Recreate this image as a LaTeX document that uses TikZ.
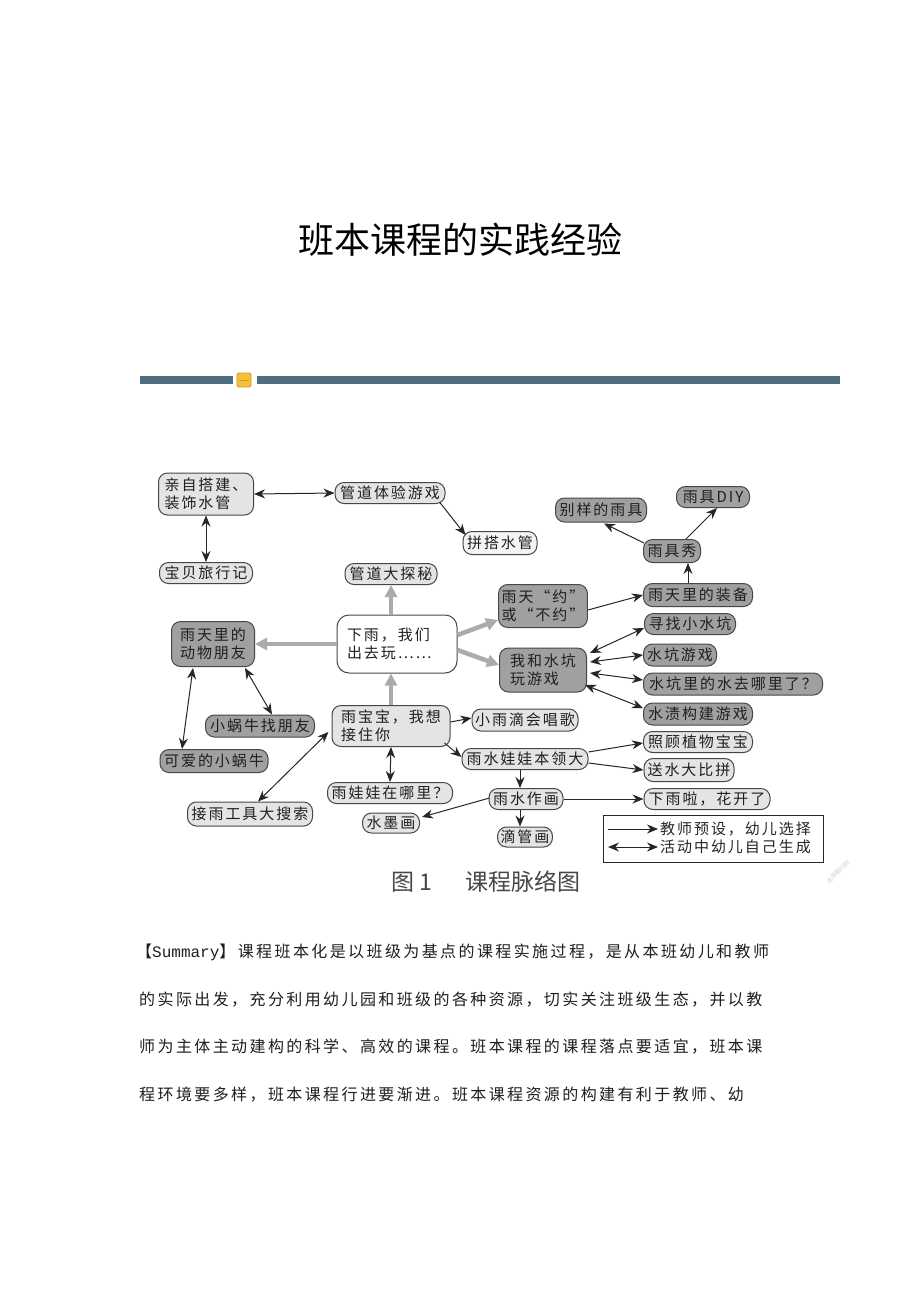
\documentclass[tikz,border=0pt]{standalone}
\usepackage{fontspec}
\setmainfont{Liberation Serif}
\newfontfamily\cjk{Noto Sans CJK SC}
\newfontfamily\cjkn[LetterSpace=13]{Noto Sans CJK SC}
\newfontfamily\cjkp[LetterSpace=15]{Noto Sans CJK SC}
\newfontfamily\monof{Liberation Mono}
\usetikzlibrary{arrows.meta,calc}
\definecolor{darkfill}{HTML}{A0A0A0}
\definecolor{lightfill}{HTML}{E4E4E4}
\definecolor{palefill}{HTML}{F4F4F4}
\definecolor{barblue}{HTML}{4F6D7E}
\definecolor{thickgray}{HTML}{ABABAB}
\definecolor{iconyellow}{HTML}{F3C23A}
\definecolor{iconedge}{HTML}{D49A1E}
\tikzset{
  box/.style={draw=black!72, line width=1pt, rounded corners=9pt, inner xsep=3pt, inner ysep=1pt,
    font=\cjkn\fontsize{15}{18}\selectfont, text=black!88, align=left},
  lbox/.style={box, fill=lightfill},
  dbox/.style={box, fill=darkfill},
  pbox/.style={box, fill=palefill},
  sz/.style 2 args={minimum width=#1pt, minimum height=#2pt},
  one/.style={-{Stealth[length=11pt,width=9pt]}, line width=1pt, draw=black!85},
  two/.style={{Stealth[length=11pt,width=9pt]}-{Stealth[length=11pt,width=9pt]}, line width=1pt, draw=black!85},
  fat/.style={-{Triangle[length=12pt,width=12pt]}, line width=4.5pt, draw=thickgray},
  para/.style={anchor=west, inner sep=0pt, font=\cjkp\fontsize{16}{16}\selectfont, text=black!88},
  legtext/.style={anchor=west, inner sep=0pt, font=\cjkn\fontsize{15}{15}\selectfont, text=black!85}
}
\begin{document}
\begin{tikzpicture}[x=1pt,y=-1pt]
\useasboundingbox (0,0) rectangle (920,1302);
\fill[white] (0,0) rectangle (920,1302);

% title
\node[font=\cjk\fontsize{36}{36}\selectfont] (title) at (460,240) {班本课程的实践经验};

% decorative bar
\fill[barblue] (140,376) rectangle (233,384);
\fill[barblue] (257,376) rectangle (840,384);
\draw[fill=iconyellow, draw=iconedge, line width=0.8pt, rounded corners=2pt] (237,373) rectangle (251,387);
\draw[iconedge, line width=0.8pt] (239,380) -- (249,380);

% nodes
\node[lbox, sz={95}{42}] (a1) at (206,494) {亲自搭建、\\装饰水管};
\node[lbox, sz={110}{21}] (a2) at (390,493) {管道体验游戏};
\node[lbox, sz={93}{21}] (a3) at (206,573) {宝贝旅行记};
\node[pbox, sz={74}{23}] (a4) at (500,543) {拼搭水管};
\node[lbox, sz={92}{21}] (tan) at (391,574) {管道大探秘};
\node[box, fill=white, rounded corners=12pt, minimum width=120pt, minimum height=58pt, text width=100pt] (c) at (397,644) {下雨，我们\\出去玩……};

\node[dbox, sz={83}{45}] (b1) at (213,644) {雨天里的\\动物朋友};
\node[dbox, sz={109}{22}] (b2) at (260,726) {小蜗牛找朋友};
\node[dbox, sz={108}{23}] (b3) at (214,761) {可爱的小蜗牛};

\node[lbox, sz={118}{41}] (r) at (391,726) {雨宝宝，我想\\接住你};
\node[lbox, sz={125}{24}] (r1) at (250,814) {接雨工具大搜索};
\node[lbox, sz={125}{21}] (r2) at (390,793) {雨娃娃在哪里？};
\node[lbox, sz={106}{22}] (r3) at (525,720) {小雨滴会唱歌};
\node[lbox, sz={126}{21}] (r4) at (525,759) {雨水娃娃本领大};
\node[lbox, sz={109}{21}] (r5) at (698,742) {照顾植物宝宝};
\node[lbox, sz={90}{23}] (r6) at (689,770) {送水大比拼};
\node[lbox, sz={74}{21}] (r7) at (526,799) {雨水作画};
\node[lbox, sz={126}{21}] (r8) at (707,799) {下雨啦，花开了};
\node[lbox, sz={57}{20}] (r9) at (391,823) {水墨画};
\node[lbox, sz={54}{20}] (r10) at (525,837) {滴管画};

\node[dbox, sz={87}{43}] (y) at (543,606) {雨天“约”\\或“不约”};
\node[dbox, sz={109}{23}] (y1) at (698,595) {雨天里的装备};
\node[dbox, sz={57}{23}] (y2) at (672,551) {雨具秀};
\node[dbox, sz={91}{24}] (y3) at (601,510) {别样的雨具};
\node[dbox, sz={73}{21}] (y4) at (713,497) {雨具DIY};

\node[dbox, sz={87}{44}] (w) at (543,670) {我和水坑\\玩游戏};
\node[dbox, sz={91}{21}] (w1) at (690,624) {寻找小水坑};
\node[dbox, sz={73}{22}] (w2) at (680,655) {水坑游戏};
\node[dbox, sz={179}{22}] (w3) at (733,684) {水坑里的水去哪里了？};
\node[dbox, sz={109}{22}] (w4) at (698,714) {水渍构建游戏};

% thick gray arrows
\draw[fat] (c.north -| tan) -- (tan.south);
\draw[fat] (r.north) -- (r.north |- c.south);
\draw[fat] (c.west) -- (b1.east);
\draw[fat] ($(c.east)+(0,-9)$) -- ($(y.west)+(0,14)$);
\draw[fat] ($(c.east)+(0,6)$) -- ($(w.west)+(0,-5)$);

% helper coordinates for vertical connectors
\coordinate (ya) at ($(y1.north)+(-10,0)$);
\coordinate (ra) at ($(r4.south)+(-5,0)$);
\coordinate (rb) at ($(r7.south)+(-6,0)$);

% thin arrows
\draw[two] (a1.east) -- (a2.west);
\draw[two] (a1.south) -- (a3.north);
\draw[one] ($(a2.south east)+(-6,-2)$) -- ($(a4.north west)+(3,4)$);

\draw[one] ($(y2.west)+(1,-8)$) -- ($(y3.south)+(3,1)$);
\draw[one] ($(y2.north)+(14,0)$) -- ($(y4.south)+(4,0)$);
\draw[one] (ya) -- (ya |- y2.south);
\draw[one] ($(y.east)+(0,4)$) -- (y1.west);

\draw[two] ($(w.east)+(3,-17)$) -- ($(w1.west)+(0,4)$);
\draw[two] ($(w.east)+(3,-8)$) -- (w2.west);
\draw[two] ($(w.east)+(3,3)$) -- ($(w3.west)+(0,-4)$);
\draw[two] ($(w.east)+(-2,15)$) -- ($(w4.west)+(0,-6)$);

\draw[two] ($(b1.south)+(32,1)$) -- ($(b2.north)+(12,0)$);
\draw[two] ($(b1.south)+(-20,1)$) -- ($(b3.north)+(-32,0)$);

\draw[two] ($(r.west)+(-3,6)$) -- ($(r1.north)+(8,0)$);
\draw[two] (r.south) -- (r2.north);
\draw[one] ($(r.east)+(0,-4)$) -- ($(r3.west)+(0,-2)$);
\draw[one] ($(r.south east)+(-6,-4)$) -- ($(r4.west)+(0,-2)$);
\draw[one] ($(r4.east)+(0,-7)$) -- ($(r5.west)+(0,1)$);
\draw[one] ($(r4.east)+(0,4)$) -- (r6.west);
\draw[one] (ra) -- (ra |- r7.north);
\draw[one] (r7.east) -- (r8.west);
\draw[one] (rb) -- (rb |- r10.north);
\draw[one] ($(r7.west)+(1,-1)$) -- ($(r9.east)+(2,-6)$);

% legend
\node[draw=black!85, line width=1pt, minimum width=220pt, minimum height=47pt, inner sep=0pt] (leg) at (713,838.5) {};
\coordinate (l1a) at (608,829);
\coordinate (l1b) at (658,829);
\coordinate (l2a) at (608,847);
\coordinate (l2b) at (658,847);
\draw[one] (l1a) -- (l1b);
\draw[two] (l2a) -- (l2b);
\node[legtext] (l1t) at (660,829) {教师预设，幼儿选择};
\node[legtext] (l2t) at (660,847) {活动中幼儿自己生成};

% caption
\node[anchor=west, inner sep=0pt, font=\cjk\fontsize{23}{23}\selectfont, text=black!72] (cap1) at (391,882) {图 1};
\node[anchor=west, inner sep=0pt, font=\cjk\fontsize{23}{23}\selectfont, text=black!72] (cap2) at (465,882) {课程脉络图};
\node[rotate=45, inner sep=0pt, font=\cjk\fontsize{6}{6}\selectfont, text=black!18] (wm) at (838,872) {龙源期刊网};

% paragraph
\node[para] (p1) at (136,952) {【{\monof\fontsize{16}{16}\selectfont Summary}】课程班本化是以班级为基点的课程实施过程，是从本班幼儿和教师};
\node[para] (p2) at (139,1000) {的实际出发，充分利用幼儿园和班级的各种资源，切实关注班级生态，并以教};
\node[para] (p3) at (139,1047) {师为主体主动建构的科学、高效的课程。班本课程的课程落点要适宜，班本课};
\node[para] (p4) at (139,1095) {程环境要多样，班本课程行进要渐进。班本课程资源的构建有利于教师、幼};
\end{tikzpicture}
\end{document}
